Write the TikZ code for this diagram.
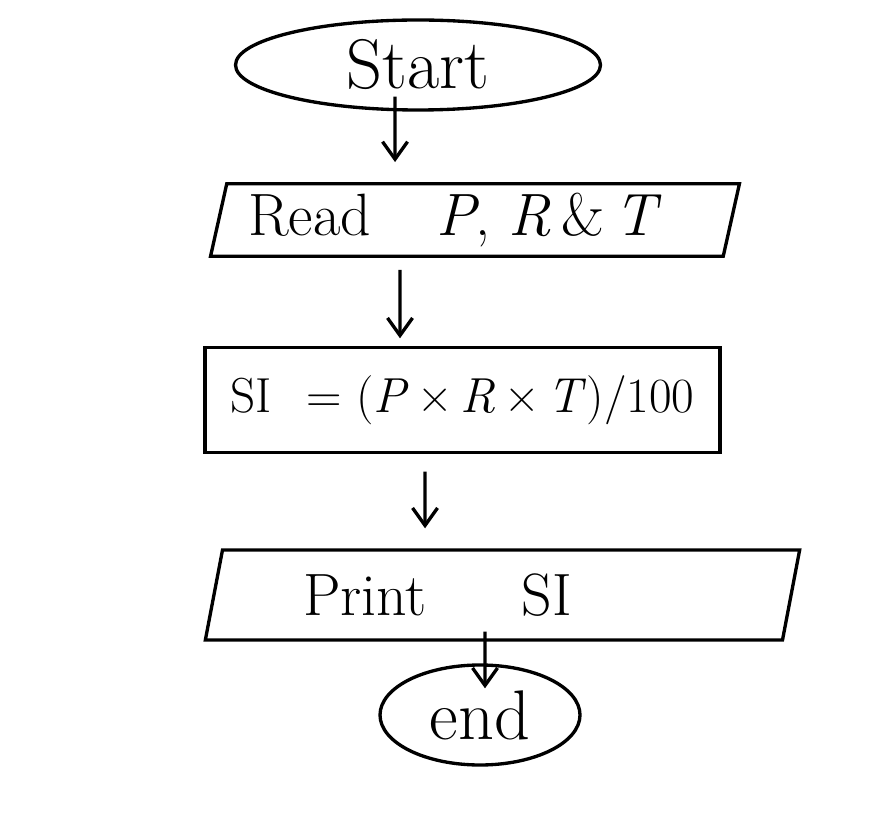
\documentclass[tikz,border=0pt]{standalone}
\usepackage{amsmath,amssymb}
\usepackage{tikz}
\usetikzlibrary{arrows.meta,positioning,shapes.geometric}

\begin{document}
\begin{tikzpicture}[
    terminal/.style={ellipse, draw, line width=1.9pt, inner sep=0pt, font=\fontsize{40}{44}\selectfont},
    io/.style={trapezium, trapezium stretches=true, trapezium left angle=77, trapezium right angle=103, draw, line width=1.9pt},
    process/.style={rectangle, draw, line width=1.9pt, font=\fontsize{28}{32}\selectfont},
    arrow/.style={-{Straight Barb[length=3.5mm,width=5mm]}, line width=1.9pt}
]
    \useasboundingbox[fill=white] (0,0) rectangle (17.58,-16.58);

    \node[terminal, minimum width=7.3cm, minimum height=1.8cm] (start) at (8.36,-1.3) {Start};
    \node[io, minimum width=10.6cm, minimum height=1.45cm, font=\fontsize{34}{38}\selectfont] (read) at (9.5,-4.4) {Read\hspace{1.3cm}\textit{P}, \textit{R}\,\&\,\textit{T}\hspace{0.8cm}\mbox{}};
    \node[process, minimum width=10.3cm, minimum height=2.1cm] (si) at (9.25,-8.0) {SI\hspace{0.7em}=\hspace{0.3em}(\textit{P}\,\texttimes\,\textit{R}\,\texttimes\,\textit{T})/100};
    \node[io, minimum width=11.9cm, minimum height=1.8cm, font=\fontsize{34}{38}\selectfont] (print) at (10.05,-11.9) {Print\hspace{1.9cm}SI\hspace{2.6cm}\mbox{}};
    \node[terminal, minimum width=4.0cm, minimum height=2.0cm] (end) at (9.6,-14.3) {end};

    \draw[arrow] ([xshift=-0.46cm,yshift=0.3cm]start.south) -- ([xshift=-1.6cm,yshift=0.4cm]read.north);
    \draw[arrow] ([xshift=-1.5cm,yshift=-0.24cm]read.south) -- ([xshift=-1.25cm,yshift=0.15cm]si.north);
    \draw[arrow] ([xshift=-0.75cm,yshift=-0.35cm]si.south) -- ([xshift=-1.55cm,yshift=0.4cm]print.north);
    \draw[arrow] ([xshift=-0.35cm,yshift=0.2cm]print.south) -- ([xshift=0.1cm,yshift=-0.5cm]end.north);
\end{tikzpicture}
\end{document}
